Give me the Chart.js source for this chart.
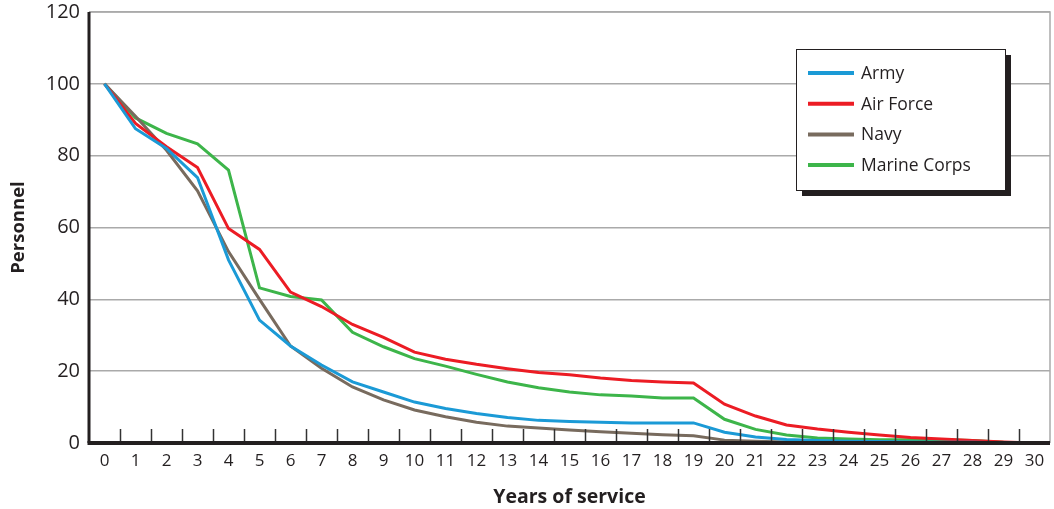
<!DOCTYPE html>
<html>
<head>
<meta charset="utf-8">
<script src="https://cdn.jsdelivr.net/npm/chart.js@4"></script>
<style>
  html, body { margin: 0; padding: 0; background: #fff; }
  #wrap { position: relative; width: 1054px; height: 509px; }
</style>
</head>
<body>
<div id="wrap"><canvas id="chart" width="1054" height="509"></canvas></div>
<script>
// Years of service (categories)
const years = Array.from({ length: 31 }, (_, i) => String(i));

// Personnel remaining, per service
const army = [100, 87.5, 82, 73.9, 51, 34.2, 27, 21.7, 17, 14.2, 11.4, 9.6, 8.2, 7.1, 6.3, 6, 5.8, 5.6, 5.6, 5.6, 3, 1.7, 1, 0.7, 0.5, 0.4, 0.3, 0.2, 0.2, 0.1, 0];
const airForce = [100, 89, 82.5, 76.7, 59.7, 53.9, 42, 38, 33, 29.4, 25.3, 23.3, 21.9, 20.7, 19.6, 19, 18.1, 17.4, 17, 16.7, 10.8, 7.5, 5, 3.9, 3, 2.2, 1.5, 1.1, 0.7, 0.3, 0];
const navy = [100, 91, 81.5, 70.2, 53.3, 40, 27, 20.8, 15.6, 12, 9.2, 7.3, 5.8, 4.7, 4.2, 3.6, 3.1, 2.7, 2.3, 2, 0.8, 0.5, 0.3, 0.2, 0.2, 0.1, 0.1, 0.1, 0, 0, 0];
const marineCorps = [100, 90.5, 86.2, 83.3, 76, 43.2, 40.8, 39.8, 30.8, 26.8, 23.5, 21.4, 19.1, 17, 15.4, 14.2, 13.4, 13.1, 12.5, 12.5, 6.6, 3.8, 2.2, 1.4, 1.1, 0.9, 0.9, 0.9, 0.7, 0.2, 0];

const yTicks = [0, 20, 40, 60, 80, 100, 120];

const FONT = "'Open Sans', 'Noto Sans', sans-serif";

// ticks between categories, pointing up from the x axis
const innerTicks = {
  id: 'innerTicks',
  afterDatasetsDraw(chart) {
    const x = chart.scales.x;
    const area = chart.chartArea;
    const ctx = chart.ctx;
    const step = x.getPixelForValue(1) - x.getPixelForValue(0);
    ctx.save();
    ctx.strokeStyle = '#333';
    ctx.lineWidth = 1.5;
    for (let i = 0; i < years.length - 1; i++) {
      const px = Math.round(x.getPixelForValue(i) + step / 2) + 0.5;
      ctx.beginPath();
      ctx.moveTo(px, area.bottom);
      ctx.lineTo(px, area.bottom - 14);
      ctx.stroke();
    }
    // frame: gray top/right, black left/bottom
    ctx.strokeStyle = '#aaa';
    ctx.lineWidth = 1.5;
    ctx.beginPath();
    ctx.moveTo(area.left, area.top);
    ctx.lineTo(area.right, area.top);
    ctx.lineTo(area.right, area.bottom);
    ctx.stroke();
    ctx.strokeStyle = '#231f20';
    ctx.lineWidth = 3;
    ctx.beginPath();
    ctx.moveTo(area.left, area.top);
    ctx.lineTo(area.left, area.bottom);
    ctx.stroke();
    ctx.lineWidth = 4;
    ctx.beginPath();
    ctx.moveTo(area.left - 1.5, area.bottom);
    ctx.lineTo(area.right, area.bottom);
    ctx.stroke();
    ctx.restore();
  }
};

// boxed legend with drop shadow inside the plot
const boxLegend = {
  id: 'boxLegend',
  afterDraw(chart) {
    const ctx = chart.ctx;
    const bx = 796, by = 49, bw = 209, bh = 141;
    ctx.save();
    ctx.fillStyle = '#231f20';
    ctx.fillRect(bx + 6, by + 6, bw, bh);
    ctx.fillStyle = '#fff';
    ctx.fillRect(bx, by, bw, bh);
    ctx.strokeStyle = '#231f20';
    ctx.lineWidth = 1;
    ctx.strokeRect(bx + 0.5, by + 0.5, bw, bh);
    ctx.font = '17.5px ' + FONT;
    ctx.textBaseline = 'middle';
    chart.data.datasets.forEach((ds, i) => {
      const y = by + 24 + i * 30.7;
      ctx.strokeStyle = ds.borderColor;
      ctx.lineWidth = 4;
      ctx.beginPath();
      ctx.moveTo(bx + 12, y);
      ctx.lineTo(bx + 58, y);
      ctx.stroke();
      ctx.fillStyle = '#231f20';
      ctx.fillText(ds.label, bx + 65, y + 1);
    });
    ctx.restore();
  }
};

function line(label, data, color) {
  return {
    label: label,
    data: data,
    borderColor: color,
    backgroundColor: color,
    borderWidth: 3,
    pointRadius: 0,
    tension: 0,
    fill: false
  };
}

new Chart(document.getElementById('chart').getContext('2d'), {
  type: 'line',
  data: {
    labels: years,
    datasets: [
      line('Army', army, '#1b9ad6'),
      line('Air Force', airForce, '#ec1c24'),
      line('Navy', navy, '#786b5e'),
      line('Marine Corps', marineCorps, '#3db54a')
    ]
  },
  options: {
    responsive: false,
    animation: false,
    layout: { padding: { top: 12, right: 4, left: 0, bottom: 0 } },
    plugins: {
      legend: { display: false },
      tooltip: { enabled: false }
    },
    scales: {
      x: {
        offset: true,
        grid: { display: false, drawTicks: false },
        border: { display: false },
        ticks: {
          color: '#231f20',
          font: { family: FONT, size: 17 },
          padding: 8,
          maxRotation: 0,
          autoSkip: false
        },
        title: {
          display: true,
          text: 'Years of service',
          color: '#231f20',
          font: { family: FONT, size: 19.5, weight: 'bold' },
          padding: { top: 2, bottom: 0 }
        },
        afterFit(scale) { scale.height = 66; }
      },
      y: {
        min: 0,
        max: 120,
        afterBuildTicks(scale) { scale.ticks = yTicks.map(v => ({ value: v })); },
        grid: { color: '#aaa', lineWidth: 1.5, drawTicks: false },
        border: { display: false },
        ticks: {
          color: '#231f20',
          font: { family: FONT, size: 20 },
          padding: 9
        },
        title: {
          display: true,
          text: 'Personnel',
          color: '#231f20',
          font: { family: FONT, size: 18.5, weight: 'bold' },
          padding: { top: 8, bottom: 0 }
        },
        afterFit(scale) {
          scale.width = 89;
          scale.paddingTop = 0;
          scale.paddingBottom = 0;
        }
      }
    }
  },
  plugins: [innerTicks, boxLegend]
});
</script>
</body>
</html>
